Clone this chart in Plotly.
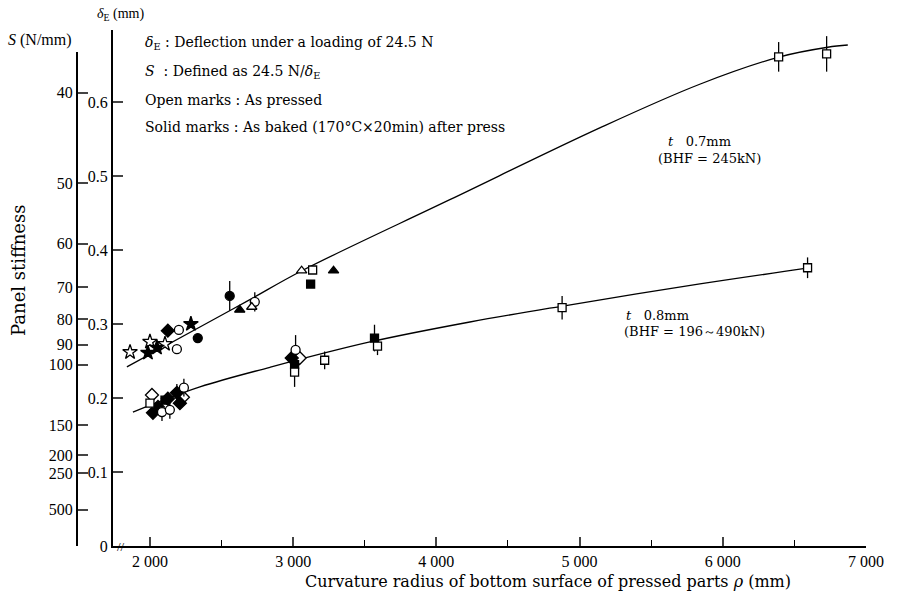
import plotly.graph_objects as go

# ---------------- data ----------------
# x: curvature radius rho (mm); y: deflection delta_E (mm); e: error half-length
# t = 0.7 mm group
star_open_x = [1861, 2000, 2105]
star_open_y = [0.262, 0.276, 0.273]
star_fill_x = [1986, 2049, 2286]
star_fill_y = [0.261, 0.268, 0.300]
circ_open_x = [2188, 2202, 2732]
circ_open_y = [0.266, 0.292, 0.330]
circ_open_e = [0.0, 0.0, 0.013]
circ_fill_x = [2334, 2557]
circ_fill_y = [0.281, 0.338]
circ_fill_e = [0.0, 0.02]
diam_fill_x_a = [2125]
diam_fill_y_a = [0.291]
tri_fill_x = [2627, 3282]
tri_fill_y = [0.319, 0.372]
tri_open_x = [2711, 3059]
tri_open_y = [0.323, 0.372]
sq_open_x_a = [3136, 6390, 6725]
sq_open_y_a = [0.373, 0.661, 0.665]
sq_open_e_a = [0.0, 0.02, 0.024]
sq_fill_x_a = [3122]
sq_fill_y_a = [0.354]

# t = 0.8 mm group
diam_open_x = [2014, 2230, 3045]
diam_open_y = [0.204, 0.201, 0.254]
diam_fill_x = [2021, 2056, 2125, 2188, 2209, 2990]
diam_fill_y = [0.180, 0.188, 0.199, 0.207, 0.193, 0.254]
diam_fill_e = [0.0, 0.0, 0.0, 0.012, 0.0, 0.0]
circ_open_x_b = [2084, 2139, 2237, 3017]
circ_open_y_b = [0.181, 0.184, 0.214, 0.265]
circ_open_e_b = [0.012, 0.012, 0.012, 0.02]
sq_fill_x_b = [2105, 3010, 3568]
sq_fill_y_b = [0.197, 0.245, 0.281]
sq_fill_e_b = [0.0, 0.0, 0.018]
sq_open_x_b = [2000, 3010, 3220, 3589, 4878, 6592]
sq_open_y_b = [0.193, 0.235, 0.251, 0.270, 0.322, 0.376]
sq_open_e_b = [0.0, 0.02, 0.012, 0.012, 0.016, 0.014]

# fitted curves
curve07_x = [1839, 2349, 2698, 3061, 4094, 5141, 5839, 6398, 6733, 6873]
curve07_y = [0.242, 0.296, 0.333, 0.372, 0.468, 0.565, 0.624, 0.661, 0.674, 0.677]
curve08_x = [1881, 2349, 2838, 3536, 4234, 4883, 5840, 6601]
curve08_y = [0.181, 0.215, 0.2415, 0.2757, 0.3027, 0.3243, 0.3541, 0.3757]

# axes ticks
x_ticks = [2000, 3000, 4000, 5000, 6000, 7000]
x_ticklabels = ["2 000", "3 000", "4 000", "5 000", "6 000", "7 000"]
x_minor = [2500, 3500, 4500, 5500, 6500]
d_ticks = [0, 0.1, 0.2, 0.3, 0.4, 0.5, 0.6]
d_ticklabels = ["0", "0.1", "0.2", "0.3", "0.4", "0.5", "0.6"]
s_ticks = [40, 50, 60, 70, 80, 90, 100, 150, 200, 250, 500]
load_N = 24.5

FONT = "Liberation Serif"
AFONT = "DejaVu Serif"
fig = go.Figure()

for cx, cy in [(curve07_x, curve07_y), (curve08_x, curve08_y)]:
    fig.add_trace(go.Scatter(x=cx, y=cy, mode="lines",
                             line=dict(color="black", width=1.3, shape="spline", smoothing=1.0),
                             hoverinfo="skip", showlegend=False))

def add_marks(x, y, symbol, filled, err=None, size=9):
    tr = dict(x=x, y=y, mode="markers", showlegend=False,
              marker=dict(symbol=symbol, size=size,
                          color="black" if filled else "white",
                          line=dict(color="black", width=1.3)))
    if err is not None:
        tr["error_y"] = dict(type="data", array=err, visible=True, width=0, thickness=1.3, color="black")
    fig.add_trace(go.Scatter(**tr))

add_marks(star_open_x, star_open_y, "star", False, size=11)
add_marks(star_fill_x, star_fill_y, "star", True, size=11)
add_marks(circ_open_x, circ_open_y, "circle", False, circ_open_e)
add_marks(circ_fill_x, circ_fill_y, "circle", True, circ_fill_e)
add_marks(diam_fill_x_a, diam_fill_y_a, "diamond", True, size=10)
add_marks(tri_fill_x, tri_fill_y, "triangle-up", True)
add_marks(tri_open_x, tri_open_y, "triangle-up", False)
add_marks(sq_open_x_a, sq_open_y_a, "square", False, sq_open_e_a, size=8)
add_marks(sq_fill_x_a, sq_fill_y_a, "square", True, size=8)
add_marks(diam_open_x, diam_open_y, "diamond", False, size=10)
add_marks(diam_fill_x, diam_fill_y, "diamond", True, diam_fill_e, size=10)
add_marks(circ_open_x_b, circ_open_y_b, "circle", False, circ_open_e_b)
add_marks(sq_fill_x_b, sq_fill_y_b, "square", True, sq_fill_e_b, size=8)
add_marks(sq_open_x_b, sq_open_y_b, "square", False, sq_open_e_b, size=8)

# dummy trace for S axis
fig.add_trace(go.Scatter(x=[2000], y=[0.3], yaxis="y2", mode="markers", marker=dict(opacity=0),
                         hoverinfo="skip", showlegend=False))

# geometry helpers (pixel -> paper)
L, R, T, B = 40, 39, 30, 51
W, H = 905, 597
PW, PH = W - L - R, H - T - B
def px(x):
    return (x - L) / PW
def py(y):
    return (H - B - y) / PH

TICKFONT = dict(family=FONT, size=16, color="black")
y_top = PH / 740.0
fig.update_layout(
    width=W, height=H, margin=dict(l=L, r=R, t=T, b=B),
    paper_bgcolor="white", plot_bgcolor="rgba(0,0,0,0)",
    font=dict(family=FONT, size=14, color="black"),
    xaxis=dict(domain=[px(113), 1], range=[1742, 7000], tickvals=x_ticks, ticktext=x_ticklabels,
               tickfont=TICKFONT,
               ticks="inside", ticklen=9, tickwidth=1.5, showline=True, linewidth=2, linecolor="black",
               showgrid=False, zeroline=False, anchor="y",
               minor=dict(tickvals=x_minor, ticks="inside", ticklen=6, tickwidth=1.2, tickcolor="black")),
    yaxis=dict(range=[0, y_top], tickvals=d_ticks, ticktext=d_ticklabels, ticks="inside", ticklen=10,
               tickfont=TICKFONT,
               tickwidth=1.5, showline=True, linewidth=2, linecolor="black", showgrid=False,
               zeroline=False, anchor="x"),
    yaxis2=dict(anchor="free", position=px(77), domain=[0, (546 - 52) / PH], range=[0, (546 - 52) / 740.0],
                tickvals=[load_N / s for s in s_ticks], ticktext=[str(s) for s in s_ticks],
                tickfont=TICKFONT,
                ticks="inside", ticklen=10, tickwidth=1.5, showline=True, linewidth=2, linecolor="black",
                showgrid=False, zeroline=False),
)

def ann(text, x, y, xanchor="left", size=14, angle=0, family=AFONT):
    fig.add_annotation(text=text, x=px(x), y=py(y), xref="paper", yref="paper", showarrow=False,
                       xanchor=xanchor, yanchor="middle", textangle=angle,
                       font=dict(family=family, size=size, color="black"))

ann("<i>δ</i><sub>E</sub> (mm)", 120, 15, "center", 14, family=FONT)
ann("<i>S</i> (N/mm)", 40, 40, "center", 16, family=FONT)
ann("Panel stiffness", 18, 270, "center", 18, -90)
ann("Curvature radius of bottom surface of pressed parts <i>ρ</i> (mm)", 548, 581, "center", 16)
ann("//", 121, 546, "center", 13, family=FONT)

ann("<i>δ</i><sub>E</sub> : Deflection under a loading of 24.5 N", 143, 43)
ann("<i>S</i>  : Defined as 24.5 N/<i>δ</i><sub>E</sub>", 143, 72)
ann("Open marks : As pressed", 143, 100)
ann("Solid marks : As baked (170°C×20min) after press", 143, 127)

ann("<i>t</i>   0.7mm", 666, 141, size=13)
ann("(BHF = 245kN)", 656, 158, size=13)
ann("<i>t</i>   0.8mm", 624, 315, size=13)
ann("(BHF = 196～490kN)", 622, 332, size=13)

fig.write_html("out.html")
